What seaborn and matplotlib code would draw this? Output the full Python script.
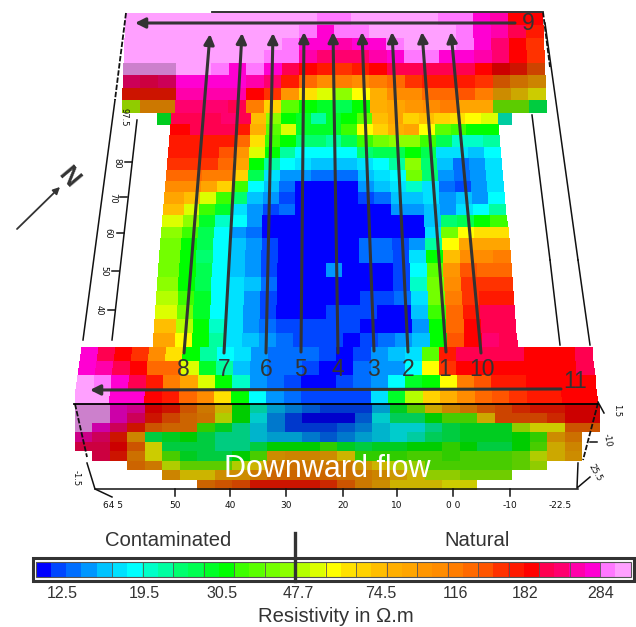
import numpy as np
import matplotlib
matplotlib.use("Agg")
import matplotlib.pyplot as plt
import seaborn as sns
from matplotlib.colors import ListedColormap

# colour classes of the resistivity scale
level_rgb = [(0,0,255),(0,70,255),(0,110,255),(0,150,255),(0,195,255),
             (0,225,255),(0,255,255),(0,255,200),(0,255,160),(0,255,110),(0,255,80),
             (0,255,40),(0,255,0),(60,255,0),(90,255,0),(115,255,0),(140,255,0),
             (180,255,0),(220,255,0),(255,255,0),(255,225,0),(255,210,0),(255,190,0),
             (255,175,0),(255,165,0),(255,150,0),(255,140,0),(255,125,0),(255,105,0),
             (255,85,0),(255,50,0),(255,25,0),(255,0,0),(255,0,80),(255,0,110),
             (255,0,170),(255,0,210),(255,120,255),(255,160,255)]
bar_ticks = ["12.5","19.5","30.5","47.7","74.5","116","182","284"]
bar_tick_x = [62,144,222,298,381,456,525,601]

# top surface, level per cell, -1 = no data
top_rows = [
 [38]*11+[37,37,38,38,38,38,38,37,37,36,35,32,32],
 [38]*10+[37,36,37,37,38,38,38,38,38,37,36,35,33,31],
 [38]*9+[37,36,36,35,36,36,37,38,38,38,37,36,34,32,30],
 [38]*8+[37,37,35,34,34,34,35,36,37,37,36,36,35,34,32,30],
 [38,38,38,38,38,37,36,37,36,33,32,31,30,31,32,33,33,33,33,33,32,32,31,29],
 [34,33,34,36,36,36,36,35,34,31,28,26,27,26,27,28,30,31,31,31,30,28,26,24],
 [31,31,31,35,35,35,35,32,30,25,20,18,16,19,23,26,26,28,28,29,27,23,21,19],
 [17,25,25,34,34,34,33,27,21,14,12,11,10,12,23,24,25,26,27,24,24,15,15,10],
 [-1,-1,11]+[-1]*18+[7,-1,-1],
]
# plan view between the two end blocks
mid_rows = [
 [33,33,33,33,34,33,22,16,12,11,8,11,12,14,22,24,21,22,21,20,19,18],
 [32,32,33,33,33,31,23,14,18,11,11,11,13,19,21,23,24,19,14,13,12,12],
 [31,31,31,31,31,28,20,13,12,9,9,8,10,13,15,16,16,13,10,7,7,8],
 [31,31,31,31,29,25,18,12,8,6,6,6,6,9,10,10,12,10,5,5,4,6],
 [30,30,30,30,28,24,12,8,6,5,4,4,4,5,6,8,16,9,4,2,3,5],
 [28,28,28,27,27,21,10,5,3,3,2,2,2,4,5,6,15,9,3,2,3,5],
 [26,26,26,24,21,13,6,4,2,0,0,0,0,3,4,5,7,5,2,1,3,5],
 [24,24,22,18,13,9,4,3,1,0,0,0,0,1,2,4,4,5,3,4,3,6],
 [22,22,18,13,11,5,3,1,2,0,0,0,0,0,0,3,3,4,3,5,6,8],
 [18,18,16,11,7,6,3,0,0,0,0,0,0,0,0,0,0,4,9,10,12,13],
 [16,16,13,10,6,3,2,0,0,0,0,0,0,0,0,0,0,5,15,19,20,20],
 [15,15,12,10,6,4,3,1,0,0,0,0,0,2,2,1,3,8,19,24,24,24],
 [15,15,12,9,6,4,3,1,0,0,0,0,0,2,2,1,5,12,22,26,26,27],
 [15,15,12,10,6,4,3,1,0,0,0,3,0,0,0,1,6,14,25,29,28,28],
 [16,16,12,10,6,5,4,2,0,0,0,0,0,0,0,1,7,15,26,30,30,30],
 [17,17,13,11,6,5,3,1,0,0,0,0,0,1,1,2,5,15,27,30,31,31],
 [18,18,15,11,6,5,3,1,0,0,0,1,1,1,0,0,4,13,28,31,33,33],
 [22,22,17,12,7,5,3,2,1,1,1,1,1,0,0,0,3,12,28,32,33,33],
 [24,24,19,12,8,5,4,3,2,1,1,1,0,1,2,3,4,12,29,32,34,33],
]
# lower end block, top surface
front_rows = [
 [36,33,32,30,26,20,12,8,6,5,3,2,2,2,1,0,1,3,4,5,14,31,33,33,33,33,32,32,32,33],
 [36,35,33,32,28,28,18,11,8,4,3,2,2,1,0,0,2,3,3,6,19,30,32,32,32,32,32,32,32,33],
 [38,37,36,33,31,27,24,18,12,7,3,2,1,0,0,1,2,3,6,11,12,19,27,29,31,31,32,32,32,32],
 [38,38,36,36,32,31,28,26,20,12,6,3,2,1,1,1,1,5,11,17,21,23,26,28,29,30,31,31,32,32],
]
# lower end block, front face (drawn darker)
face_rows = [
 [38,38,36,35,32,31,28,25,20,12,7,4,3,2,1,1,1,4,11,15,21,24,26,28,29,30,31,31,32,32],
 [38,38,36,34,31,29,27,26,18,12,6,3,1,0,0,0,2,6,9,9,12,14,14,21,29,29,29,30,32,32],
 [38,36,34,31,28,27,27,13,11,8,5,3,1,1,1,2,3,5,6,6,8,10,11,11,11,17,19,19,28,28],
 [35,34,31,24,10,11,12,10,8,8,5,4,4,3,2,3,4,5,6,7,9,10,11,11,11,12,13,23,26,-1],
 [33,33,32,28,19,10,10,10,8,8,10,12,12,12,13,11,10,11,11,12,12,13,12,10,10,12,14,21,24,-1],
 [-1,33,31,26,19,14,11,10,10,12,14,23,24,24,23,20,13,13,13,14,14,13,14,14,14,15,18,21,23,-1],
 [-1,-1,-1,27,25,18,15,15,15,18,20,25,26,25,25,25,22,20,18,17,14,14,14,14,14,15,17,-1,-1,-1],
 [-1,-1,-1,-1,-1,24,20,20,23,23,25,27,27,27,27,26,25,24,22,20,17,17,16,16,16,-1,-1,-1,-1,-1],
 [-1,-1,-1,-1,-1,-1,-1,27,28,29,31,31,31,31,30,28,25,23,20,20,20,19,19,-1,-1,-1,-1,-1,-1,-1],
]

# survey profiles: label, tail, tip
profile_names = ["8","7","6","5","4","3","2","1","10"]
profile_x = [183,224,266,300,338,373,408,445,482]
axis_x_labels = ["64 5","50","40","30","20","10","0 0","-10","-22.5"]
axis_x_pos = [113,175,230,286,343,397,453,510,560]
axis_y_labels = ["97.5","80","70","60","50","40"]
axis_y_pos = [(124,117),(117,163),(113,198),(108,233),(104,271),(99,310)]

rgb = np.array(level_rgb)/255
bright = ListedColormap(rgb)
dark = ListedColormap(rgb*0.8)

plt.rcParams['font.family'] = ['Liberation Sans', 'DejaVu Sans']
fig = plt.figure(figsize=(6.36,6.27), dpi=100)
ax = fig.add_axes([0,0,1,1])


def draw(rows, cmap, mask, xl, xr, y_edges, x_frac=None):
    # heatmap in cell units, then its grid is fitted on the picture
    data = np.array(rows, dtype=float)
    sns.heatmap(data, mask=mask, cmap=cmap, vmin=-0.5, vmax=38.5, cbar=False,
                xticklabels=False, yticklabels=False, ax=ax)
    grid = ax.collections[-1].get_coordinates()
    n = data.shape[0]
    if x_frac is None:
        x_frac = np.linspace(0, 1, data.shape[1]+1)
    for j in range(n+1):
        t = j/n
        left = xl[0]+(xl[1]-xl[0])*t
        right = xr[0]+(xr[1]-xr[0])*t
        grid[j,:,0] = left+(right-left)*x_frac
        grid[j,:,1] = y_edges[j]


top = np.array(top_rows)
top_dark = np.zeros(top.shape, dtype=bool)
top_dark[4:8,:3] = True
top_dark[4:8,-3:] = True
top_dark[8] = True
y_top = np.linspace(13,125.5,10)
draw(top_rows, bright, (top<0)|top_dark, (126,122), (543,548), y_top)
draw(top_rows, dark, (top<0)|~top_dark, (126,122), (543,548), y_top)

y_mid = np.interp(np.arange(20), [0,12,19], [113,250,347])
x_mid = (np.interp(np.arange(23), [0,1,12,22], [305,320,815,1282])-305)/977
mid = np.array(mid_rows)
draw(mid_rows, bright, mid<0, (172,153), (497,518), y_mid, x_mid)

front = np.array(front_rows)
draw(front_rows, bright, front<0, (82,75), (592,598), np.linspace(347,404,5))
face = np.array(face_rows)
draw(face_rows, dark, face<0, (75,75), (600,600), np.linspace(404,490,10))

# colour bar
bar = np.arange(len(level_rgb))[None,:]
draw(bar, bright, None, (36,36), (631,631), [562,577])
bar_step = (631-36)/39
for i in list(range(5,39,2)):
    ax.plot([36+i*bar_step]*2, [562,577], color="#555555", lw=0.6)
ax.add_patch(plt.Rectangle((36,562),595,15,fill=False,ec="#555555",lw=0.8))
ax.add_patch(plt.Rectangle((33,558),601,23,fill=False,ec="#333333",lw=2.2))
ax.plot([295,295],[533,581],color="#333333",lw=2.4)
for lab,x in zip(bar_ticks,bar_tick_x):
    ax.text(x,594,lab,ha="center",va="center",fontsize=11.5,color="#333333")
ax.text(168,541,"Contaminated",ha="center",va="center",fontsize=14.6,color="#333333")
ax.text(477,541,"Natural",ha="center",va="center",fontsize=14.6,color="#333333")
ax.text(336,617,"Resistivity in \u03a9.m",ha="center",va="center",fontsize=14.6,color="#333333")

# wire frame of the 3D box
wire = dict(color="#111111",lw=1.1)
ax.plot([115,83],[100,340],**wire)
ax.plot([137,112],[120,340],**wire)
ax.plot([532,550],[115,260],**wire)
ax.plot([550,560],[260,345],**wire)
ax.plot([545,578],[23,260],**wire)
ax.plot([578,590],[260,345],**wire)
ax.plot([126,120,115],[13,60,100],color="#111111",lw=1.3,ls=(0,(3,1)))
ax.plot([543,550],[12,67],color="#111111",lw=1.3,ls=(0,(3,1)))
ax.plot([75,87],[404,457],color="#111111",lw=1.3,ls=(0,(3,1)))
ax.plot([598,583],[403,460],color="#111111",lw=1.3,ls=(0,(3,1)))
ax.plot([212,543],[12,12],color="#222222",lw=1.3)
ax.plot([74,598],[404,404],color="black",lw=1.3)
ax.plot([87,95,578],[463,489,489],**wire)
ax.plot([95,112],[489,497],**wire)
ax.plot([578,577,590],[463,488,477],**wire)
ax.plot([598,604],[402,413],**wire)
ax.plot([590,597],[442,442],**wire)
for y,(x0,x1) in zip([162,197,233,271,310],[(125,132),(120,127),(117,124),(112,119),(108,115)]):
    ax.plot([x0,x1],[y,y],**wire)
for x,lab in zip(axis_x_pos,axis_x_labels):
    if lab not in ("64 5","-22.5"):
        ax.plot([x,x],[489,496],**wire)
    ax.text(x,505,lab,ha="center",va="center",fontsize=6.5,family="DejaVu Sans",color="#111111")
for (x,y),lab in zip(axis_y_pos,axis_y_labels):
    ax.text(x,y,lab,ha="center",va="center",fontsize=6,rotation=-90,family="DejaVu Sans",color="#111111")
ax.text(595,473,"25.5",ha="center",va="center",fontsize=6,rotation=-60,family="DejaVu Sans",color="#111111")
ax.text(607,440,"-10",ha="center",va="center",fontsize=6,rotation=-80,family="DejaVu Sans",color="#111111")
ax.text(617,411,"1.5",ha="center",va="center",fontsize=6,rotation=-90,family="DejaVu Sans",color="#111111")
ax.text(76,478,"-1.5",ha="center",va="center",fontsize=6,rotation=-90,family="DejaVu Sans",color="#111111")

# profile arrows
arrow = dict(arrowstyle="-|>",color="#333333",lw=2.2,mutation_scale=15,shrinkA=0,shrinkB=0)
profile_tail = [(184,353),(224,353),(266,353),(301,352),(338,353),(374,351),(408,352),(446,352),(481,353)]
profile_tip = [(210,34),(242,33),(273,33),(304,32),(333,32),(362,32),(392,32),(422,32),(451,32)]
for tail,tip in zip(profile_tail,profile_tip):
    ax.annotate("",xy=tip,xytext=tail,arrowprops=arrow)
ax.annotate("",xy=(135,23),xytext=(515,23),arrowprops=arrow)
ax.annotate("",xy=(90,390),xytext=(561,389),arrowprops=arrow)
for lab,x in zip(profile_names,profile_x):
    ax.text(x,369,lab,ha="center",va="center",fontsize=16.5,color="#333333")
ax.text(528,24,"9",ha="center",va="center",fontsize=16.5,color="#333333")
ax.text(575,382,"11",ha="center",va="center",fontsize=16.5,color="#333333")

# north arrow
ax.annotate("",xy=(60,187),xytext=(17,229),
            arrowprops=dict(arrowstyle="-|>",color="#333333",lw=1.3,mutation_scale=10,shrinkA=0,shrinkB=0))
ax.text(69,177,"N",ha="center",va="center",fontsize=18,fontweight="bold",rotation=-50,color="#333333")

ax.text(327,469,"Downward flow",ha="center",va="center",fontsize=22,color="white")

ax.set_xlim(0,636)
ax.set_ylim(627,0)
ax.axis("off")
fig.savefig("out.png",dpi=100)
